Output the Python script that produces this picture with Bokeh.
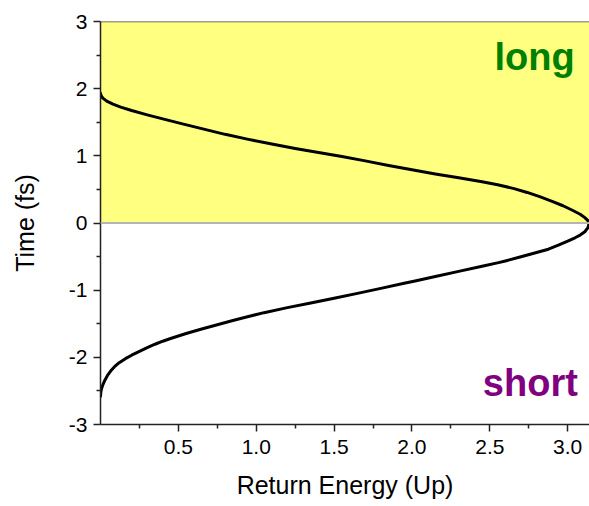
from bokeh.plotting import figure
from bokeh.models import (ColumnDataSource, FixedTicker, Span, BoxAnnotation,
                          Label, Range1d)
from bokeh.embed import file_html
from bokeh.resources import INLINE

# Long trajectory: return energy (Up) and time (fs), from zero energy to the cutoff
energy_long = [0.0, 0.004, 0.015, 0.04, 0.08, 0.13, 0.2, 0.3, 0.4, 0.52, 0.65,
               0.8, 0.95, 1.1, 1.25, 1.4, 1.55, 1.7, 1.85, 2.0, 2.15, 2.3, 2.45,
               2.55, 2.65, 2.74, 2.82, 2.9, 2.97, 3.03, 3.08, 3.11, 3.13, 3.138]
time_long = [1.93, 1.895, 1.86, 1.815, 1.77, 1.725, 1.675, 1.61, 1.55, 1.48, 1.405,
             1.32, 1.245, 1.175, 1.11, 1.05, 0.99, 0.925, 0.857, 0.792, 0.731, 0.673,
             0.615, 0.57, 0.515, 0.455, 0.393, 0.323, 0.257, 0.19, 0.13, 0.08,
             0.035, 0.0]

# Short trajectory: from the cutoff back to zero energy
energy_short = [3.138, 3.13, 3.11, 3.08, 3.047, 3.0, 2.94, 2.876, 2.8, 2.7, 2.6,
                2.556, 2.45, 2.3, 2.15, 2.02, 1.95, 1.8, 1.65, 1.5, 1.35, 1.2,
                1.05, 0.95, 0.85, 0.75, 0.65, 0.55, 0.45, 0.4, 0.35, 0.3, 0.25,
                0.2, 0.16, 0.12, 0.09, 0.065, 0.045, 0.028, 0.015, 0.006, 0.002,
                0.0]
time_short = [0.0, -0.07, -0.13, -0.18, -0.22, -0.27, -0.33, -0.39, -0.44, -0.503,
              -0.565, -0.59, -0.645, -0.72, -0.797, -0.863, -0.898, -0.973, -1.048,
              -1.12, -1.19, -1.26, -1.335, -1.392, -1.452, -1.515, -1.578, -1.645,
              -1.72, -1.76, -1.805, -1.855, -1.91, -1.968, -2.02, -2.08, -2.14,
              -2.205, -2.27, -2.34, -2.41, -2.47, -2.52, -2.58]

y_ticks = [-3, -2, -1, 0, 1, 2, 3]
y_labels = ["-3", "-2", "-1", "0", "1", "2", "3"]
x_ticks = [0.5, 1.0, 1.5, 2.0, 2.5, 3.0]
x_labels = ["0.5", "1.0", "1.5", "2.0", "2.5", "3.0"]

FONT = "Liberation Sans"

p = figure(width=589, height=506, output_backend="svg", toolbar_location=None,
           x_range=Range1d(0, 3.14), y_range=Range1d(-3, 3),
           min_border_left=100, min_border_right=0, min_border_top=21,
           min_border_bottom=82)
p.grid.visible = False
p.outline_line_color = None
p.background_fill_color = "white"
p.border_fill_color = "white"

# Upper half shaded for the long-trajectory region
p.add_layout(BoxAnnotation(bottom=0, top=3, fill_color="#FFFF80", fill_alpha=1.0,
                           line_color=None, level="underlay"))
p.add_layout(Span(location=0, dimension="width", line_color="#B4B4B4",
                  line_width=2))
p.add_layout(Span(location=3, dimension="width", line_color="#404040",
                  line_width=1.5))

src = ColumnDataSource(data=dict(x=energy_long + energy_short[1:],
                                 y=time_long + time_short[1:]))
p.line("x", "y", source=src, line_color="black", line_width=3,
       line_join="round", line_cap="round")

for ax in (p.xaxis[0], p.yaxis[0]):
    ax.axis_line_color = "#222222"
    ax.axis_line_width = 1.5
    ax.major_tick_line_color = "#222222"
    ax.minor_tick_line_color = "#222222"
    ax.major_tick_line_width = 1.5
    ax.minor_tick_line_width = 1.5
    ax.major_tick_in = 0
    ax.major_tick_out = 7
    ax.minor_tick_in = 0
    ax.minor_tick_out = 4
    ax.major_label_text_font = FONT
    ax.major_label_text_font_size = "21px"
    ax.major_label_text_color = "black"
    ax.axis_label_text_font = FONT
    ax.axis_label_text_font_size = "25px"
    ax.axis_label_text_font_style = "normal"
    ax.axis_label_text_color = "black"

p.yaxis.ticker = FixedTicker(ticks=y_ticks,
                             minor_ticks=[-2.5, -1.5, -0.5, 0.5, 1.5, 2.5])
p.yaxis.major_label_overrides = dict(zip(y_ticks, y_labels))
p.yaxis.major_label_standoff = 6
p.yaxis.axis_label = "Time (fs)"
p.yaxis.axis_label_standoff = 27

p.xaxis.ticker = FixedTicker(ticks=x_ticks,
                             minor_ticks=[0.25, 0.75, 1.25, 1.75, 2.25, 2.75])
p.xaxis.major_label_overrides = dict(zip(x_ticks, x_labels))
p.xaxis.major_label_standoff = 8
p.xaxis.axis_label = "Return Energy (Up)"
p.xaxis.axis_label_standoff = 14

p.add_layout(Label(x=3.045, y=2.47, text="long", text_font=FONT,
                   text_font_size="38px", text_font_style="bold",
                   text_color="#008000", text_align="right",
                   text_baseline="alphabetic"))
p.add_layout(Label(x=3.065, y=-2.385, text="short", text_font=FONT,
                   text_font_size="38px", text_font_style="bold",
                   text_color="#800080", text_align="right",
                   text_baseline="alphabetic"))

open("out.html", "w").write(file_html(p, INLINE))
